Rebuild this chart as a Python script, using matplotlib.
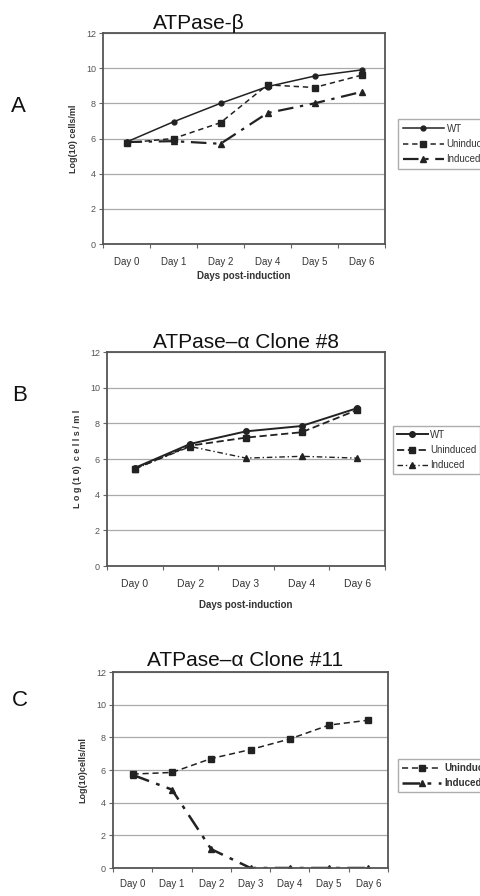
import matplotlib
matplotlib.use("Agg")
import matplotlib.pyplot as plt
from matplotlib import font_manager

plt.rcParams['font.family'] = ['Liberation Sans', 'DejaVu Sans']

# Panel A: ATPase-beta
days_a = ["Day 0", "Day 1", "Day 2", "Day 4", "Day 5", "Day 6"]
wt_a = [5.8, 6.95, 8.0, 8.95, 9.55, 9.9]
unind_a = [5.75, 6.0, 6.9, 9.05, 8.9, 9.6]
ind_a = [5.8, 5.85, 5.7, 7.45, 8.0, 8.65]

# Panel B: ATPase-alpha clone 8
days_b = ["Day 0", "Day 2", "Day 3", "Day 4", "Day 6"]
wt_b = [5.5, 6.85, 7.55, 7.85, 8.85]
unind_b = [5.45, 6.75, 7.2, 7.5, 8.75]
ind_b = [5.45, 6.7, 6.05, 6.15, 6.05]

# Panel C: ATPase-alpha clone 11
days_c = ["Day 0", "Day 1", "Day 2", "Day 3", "Day 4", "Day 5", "Day 6"]
unind_c = [5.75, 5.85, 6.7, 7.25, 7.9, 8.75, 9.05]
ind_c = [5.7, 4.8, 1.15, 0.0, 0.0, 0.0, 0.0]

W, H = 480, 896
fig = plt.figure(figsize=(W / 100, H / 100), dpi=100)
TXT = '#333333'

# narrow face for panel B, if one is around
names = {f.name for f in font_manager.fontManager.ttflist}
NARROW = [n for n in ['Liberation Sans Narrow', 'DejaVu Sans Condensed'] if n in names] + ['Liberation Sans']


def px_axes(left, top, right, bottom):
    # axes from pixel box (top-left origin)
    return fig.add_axes([left / W, 1 - bottom / H, (right - left) / W, (bottom - top) / H])


def style_axes(ax, days, ylabel, tickfont, narrow=False):
    x = range(len(days))
    ax.set_xlim(-0.5, len(days) - 0.5)
    ax.set_ylim(0, 12)
    ax.set_yticks(range(0, 13, 2))
    ax.set_xticks([i + 0.5 for i in range(-1, len(days))], minor=False)
    ax.set_xticklabels([])
    ax.set_xticks(list(x), minor=True)
    ax.set_xticklabels(days, minor=True, fontsize=tickfont, color=TXT,
                       family=NARROW if narrow else None)
    ax.tick_params(axis='x', which='minor', length=0, pad=9)
    ax.tick_params(axis='x', which='major', length=3, color='#666666', direction='out')
    ax.tick_params(axis='y', length=3, color='#666666', labelsize=6.5, labelcolor='#555555', pad=2)
    ax.yaxis.grid(True, color='#aaaaaa', lw=0.9)
    ax.set_axisbelow(True)
    for s in ax.spines.values():
        s.set_color('#555555')
        s.set_linewidth(1.3)
    ax.set_ylabel(ylabel, fontsize=6.5, color=TXT, fontweight='bold', labelpad=6)


# ---- Panel A ----
ax = px_axes(103, 33, 385, 244)
xa = range(len(days_a))
ax.plot(xa, wt_a, '-', color='#222222', lw=1.1, marker='o', ms=3.5, label='WT')
ax.plot(xa, unind_a, '--', color='#222222', lw=1.1, marker='s', ms=4, dashes=(3.5, 2.5), label='Uninduced')
ax.plot(xa, ind_a, color='#222222', lw=1.6, marker='^', ms=4, dashes=(7, 3, 1.5, 3), label='Induced')
style_axes(ax, days_a, 'Log(10) cells/ml', 7)
ax.set_xlabel('Days post-induction', fontsize=7, fontweight='bold', color=TXT, labelpad=3)
ax.set_title('ATPase-β', fontsize=15, color='#111111', pad=-3, x=0.34)
ax.legend(loc='upper left', bbox_to_anchor=(393 / W, 1 - 114 / H), bbox_transform=fig.transFigure,
          fontsize=7, frameon=True, fancybox=False, edgecolor='#999999', handlelength=4.2,
          handletextpad=0.3, borderpad=0.5, labelspacing=0.55, labelcolor=TXT)
fig.text(18 / W, 1 - 107 / H, 'A', fontsize=16, color='#111111', ha='center', va='center')

# ---- Panel B ----
ax = px_axes(107, 352, 385, 566)
xb = range(len(days_b))
ax.plot(xb, wt_b, '-', color='#222222', lw=1.4, marker='o', ms=4, label='WT')
ax.plot(xb, unind_b, '--', color='#222222', lw=1.3, marker='s', ms=4, dashes=(4, 2), label='Uninduced')
ax.plot(xb, ind_b, color='#222222', lw=1.0, marker='^', ms=4, dashes=(4, 2, 1, 2), label='Induced')
style_axes(ax, days_b, 'L o g (1 0)  c e l l s / m l', 7.5, narrow=True)
ax.set_xlabel('Days post-induction', fontsize=7, fontweight='bold', color=TXT, labelpad=8,
              family=NARROW)
ax.set_title('ATPase–α Clone #8', fontsize=15, color='#111111', pad=1, x=0.5)
ax.legend(loc='upper left', bbox_to_anchor=(388 / W, 1 - 421 / H), bbox_transform=fig.transFigure,
          frameon=True, fancybox=False, edgecolor='#999999', handlelength=3.2,
          handletextpad=0.2, borderpad=0.4, labelspacing=0.55, labelcolor=TXT,
          prop={'family': NARROW, 'size': 7})
fig.text(20 / W, 1 - 395 / H, 'B', fontsize=16, color='#111111', ha='center', va='center')

# ---- Panel C ----
ax = px_axes(113, 672, 388, 868)
xc = range(len(days_c))
ax.plot(xc, unind_c, '--', color='#222222', lw=1.1, marker='s', ms=4, dashes=(4, 2.5), label='Uninduced')
ax.plot(xc, ind_c, color='#222222', lw=1.8, marker='^', ms=4, dashes=(7, 3, 1.5, 3), label='Induced')
style_axes(ax, days_c, 'Log(10)cells/ml', 7)
ax.tick_params(axis='x', which='minor', pad=8)
ax.set_title('ATPase–α Clone #11', fontsize=15, color='#111111', pad=4, x=0.48)
ax.legend(loc='upper left', bbox_to_anchor=(393 / W, 1 - 754 / H), bbox_transform=fig.transFigure,
          fontsize=7, frameon=True, fancybox=False, edgecolor='#999999', handlelength=4.0,
          handletextpad=0.3, borderpad=0.45, labelspacing=0.5, labelcolor=TXT,
          prop={'weight': 'bold', 'size': 7})
fig.text(20 / W, 1 - 700 / H, 'C', fontsize=16, color='#111111', ha='center', va='center')

fig.savefig('out.png', dpi=100)
